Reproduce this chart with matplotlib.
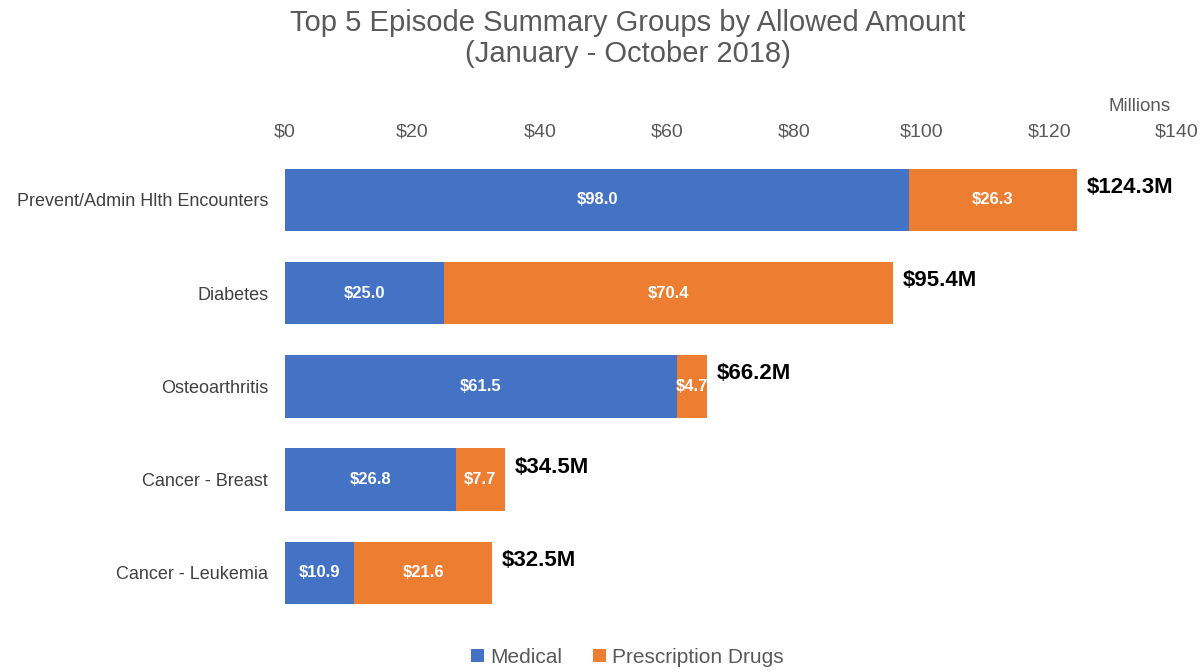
import matplotlib.pyplot as plt

plt.rcParams['font.family'] = ['Liberation Sans', 'DejaVu Sans']

# data
groups = ['Prevent/Admin Hlth Encounters', 'Diabetes', 'Osteoarthritis',
          'Cancer - Breast', 'Cancer - Leukemia']
medical = [98.0, 25.0, 61.5, 26.8, 10.9]
drugs = [26.3, 70.4, 4.7, 7.7, 21.6]
totals = [124.3, 95.4, 66.2, 34.5, 32.5]
xticks = [0, 20, 40, 60, 80, 100, 120, 140]

blue = '#4472C4'
orange = '#ED7D31'
gray = '#595959'

fig = plt.figure(figsize=(12.02, 6.72), dpi=100)
ax = fig.add_axes([0.237, 0.078, 0.742, 0.694])

y = range(len(groups))
ax.barh(y, medical, height=0.67, color=blue, label='Medical')
ax.barh(y, drugs, left=medical, height=0.67, color=orange, label='Prescription Drugs')

for i in y:
    ax.text(medical[i] / 2, i, f'${medical[i]:.1f}', ha='center', va='center',
            color='white', fontsize=12, fontweight='bold')
    ax.text(medical[i] + drugs[i] / 2, i, f'${drugs[i]:.1f}', ha='center', va='center',
            color='white', fontsize=12, fontweight='bold')
    ax.annotate(f'${totals[i]:.1f}M', (totals[i], i), xytext=(7, 9),
                textcoords='offset points', ha='left', va='center',
                fontsize=16, fontweight='bold', color='black')

ax.set_xlim(0, 140)
ax.set_ylim(4.5, -0.5)
ax.set_yticks(list(y))
ax.set_yticklabels(groups, fontsize=13, color='#404040')
ax.set_xticks(xticks)
ax.set_xticklabels([f'${t}' for t in xticks], fontsize=14, color=gray)
ax.xaxis.tick_top()
ax.tick_params(length=0, pad=9)
ax.tick_params(axis='y', pad=12)
for s in ax.spines.values():
    s.set_visible(False)

fig.text(0.974, 0.842, 'Millions', ha='right', va='center', fontsize=13.5, color=gray)
fig.text(0.522, 0.943, 'Top 5 Episode Summary Groups by Allowed Amount\n(January - October 2018)',
         ha='center', va='center', fontsize=21, color=gray, linespacing=1.15)

fig.legend(loc='lower center', bbox_to_anchor=(0.522, -0.02), ncol=2, frameon=False,
           fontsize=15, handlelength=0.6, handleheight=0.6, handletextpad=0.3,
           columnspacing=1.5, labelcolor=gray)

fig.savefig('out.png', dpi=100)
